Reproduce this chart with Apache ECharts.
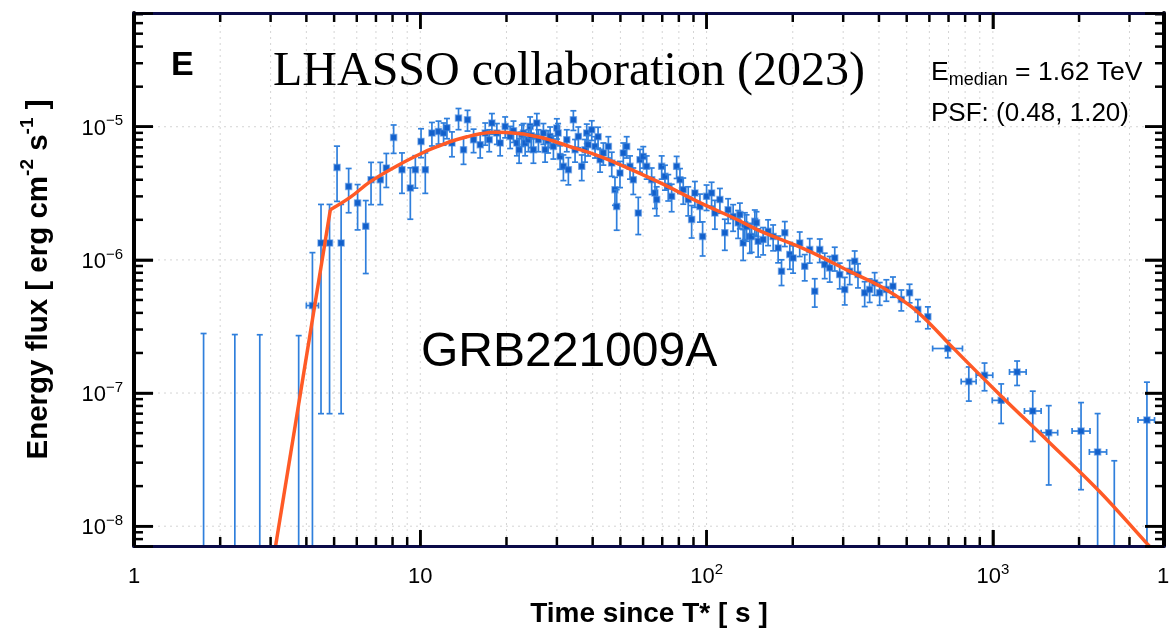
<!DOCTYPE html>
<html>
<head>
<meta charset="utf-8">
<script src="https://cdn.jsdelivr.net/npm/echarts@6/dist/echarts.min.js"></script>
<style>
  html, body { margin: 0; padding: 0; background: #fff; }
  #chart { width: 1172px; height: 633px; }
</style>
</head>
<body>
<div id="chart"></div>
<script>
// GRB 221009A light curve (energy flux vs. time since T*)
// Flux values are in units of 1e-6 erg cm^-2 s^-1.
const FLUX_UNIT = 1e-6;

// Measured points (narrow time bins)
const tObs = [
  4.50, 4.82, 5.12, 5.29, 5.62, 6.04, 6.45, 6.73, 7.25, 7.61,
  8.07, 8.63, 9.23, 9.61, 10.06, 10.41, 10.98, 11.58, 12.06, 12.39,
  12.90, 13.60, 14.16, 14.62, 15.35, 16.19, 16.86, 17.41, 17.79, 18.51,
  19.01, 19.79, 20.60, 21.16, 21.75, 22.14, 22.63, 22.93, 23.24, 23.87,
  24.19, 24.39, 24.84, 25.53, 25.86, 26.92, 27.29, 27.95, 28.41, 29.17,
  29.99, 30.29, 30.79, 31.61, 32.49, 32.90, 34.25, 34.72, 35.65, 36.64,
  37.63, 38.15, 38.55, 39.71, 40.78, 41.78, 42.46, 43.60, 45.39, 46.64,
  47.86, 48.53, 49.83, 51.18, 52.59, 54.02, 55.46, 57.73, 58.52, 60.10,
  61.77, 64.29, 66.03, 66.93, 69.68, 71.55, 73.47, 75.51, 78.60, 80.72,
  82.88, 86.27, 88.67, 91.03, 94.78, 96.85, 100.0, 104.1, 106.9, 111.3,
  115.8, 118.9, 123.8, 128.9, 130.7, 134.2, 136.0, 137.9, 141.6, 143.6,
  147.4, 149.4, 151.4, 157.6, 164.0, 170.8, 177.8, 182.7, 187.6, 195.3,
  200.5, 211.5, 220.2, 229.2, 238.7, 248.5, 258.6, 269.2, 280.3, 291.7,
  303.8, 316.1, 329.1, 337.9, 356.6, 371.2, 386.4, 402.3, 424.5, 447.7,
  478.8, 511.7, 547.0, 592.9
];
const fObs = [
  1.34, 1.34, 4.95, 1.34, 3.56, 2.68, 1.79, 4.00, 4.00, 4.90,
  8.31, 4.76, 3.47, 4.76, 7.76, 4.76, 8.97, 9.22, 8.97, 9.83,
  7.55, 11.61, 6.72, 11.28, 7.99, 7.33, 8.97, 7.99, 10.66, 8.97,
  7.55, 10.05, 8.46, 9.33, 7.55, 6.72, 8.71, 8.97, 7.55, 7.99,
  10.05, 8.56, 6.72, 10.66, 7.99, 8.97, 6.72, 7.85, 8.46, 7.12,
  9.78, 8.97, 5.99, 5.04, 7.99, 4.76, 11.28, 6.72, 8.46, 5.04,
  6.72, 8.97, 7.33, 9.49, 7.12, 8.41, 5.66, 6.35, 7.12, 5.34,
  3.37, 2.52, 4.49, 6.35, 7.12, 5.04, 4.00, 2.25, 5.66, 5.99,
  5.04, 4.00, 3.18, 2.84, 5.04, 4.24, 3.57, 3.00, 5.04, 4.00,
  3.37, 2.84, 2.01, 3.18, 2.52, 1.50, 3.00, 3.18, 2.25, 2.84,
  1.60, 2.38, 2.12, 1.90, 2.19, 1.34, 1.84, 1.78, 1.50, 1.50,
  1.95, 1.90, 1.38, 1.42, 1.64, 1.50, 1.23, 0.822, 1.60, 1.10,
  1.035, 1.34, 0.896, 1.195, 0.582, 1.195, 0.923, 0.871, 1.035, 0.776,
  0.599, 0.822, 0.977, 0.776, 0.566, 0.599, 0.672, 0.566, 0.599, 0.634,
  0.504, 0.566, 0.424, 0.374
];
const fObsErr = [
  1.27, 1.27, 2.20, 1.27, 1.30, 1.00, 1.00, 1.40, 1.40, 1.40,
  2.00, 1.60, 1.45, 1.30, 1.90, 1.60, 1.80, 1.80, 1.70, 1.70,
  1.60, 2.10, 1.50, 2.00, 1.60, 1.50, 1.70, 1.50, 1.90, 1.60,
  1.50, 1.80, 1.60, 1.70, 1.50, 1.40, 1.60, 1.60, 1.50, 1.50,
  1.80, 1.60, 1.40, 1.90, 1.50, 1.60, 1.30, 1.50, 1.50, 1.40,
  1.70, 1.60, 1.20, 1.10, 1.50, 1.10, 1.90, 1.30, 1.50, 1.10,
  1.30, 1.50, 1.30, 1.60, 1.30, 1.50, 1.10, 1.20, 1.30, 1.10,
  0.80, 0.85, 1.00, 1.20, 1.30, 1.00, 0.90, 0.70, 1.10, 1.10,
  1.00, 0.90, 0.75, 0.70, 1.00, 0.90, 0.80, 0.70, 0.95, 0.85,
  0.75, 0.70, 0.55, 0.70, 0.60, 0.43, 0.65, 0.65, 0.55, 0.60,
  0.42, 0.50, 0.48, 0.45, 0.48, 0.35, 0.42, 0.40, 0.38, 0.36,
  0.42, 0.40, 0.33, 0.33, 0.36, 0.33, 0.28, 0.18, 0.34, 0.25,
  0.24, 0.28, 0.20, 0.25, 0.14, 0.24, 0.20, 0.19, 0.21, 0.17,
  0.14, 0.17, 0.19, 0.16, 0.12, 0.12, 0.13, 0.11, 0.11, 0.11,
  0.09, 0.09, 0.08, 0.07
];

// Measured points with wide time bins
const tBin   = [4.20, 696, 824, 935, 1069, 1215, 1378, 1567, 2032, 2322, 3452];
const tBinLo = [4.00, 616, 775, 874, 995, 1143, 1289, 1474, 1891, 2173, 3213];
const tBinHi = [4.41, 783, 874, 999, 1127, 1307, 1474, 1684, 2184, 2496, 3670];
const fBin   = [0.454, 0.216, 0.122, 0.136, 0.0881, 0.144, 0.0733, 0.0504, 0.0518, 0.0361, 0.0627];
const fBinErr = [0.68, 0.032, 0.035, 0.032, 0.029, 0.030, 0.030, 0.030, 0.033, 0.034, 0.058];

// Bins with no net flux: only the upper error is shown
const tNull   = [1.75, 2.25, 2.75, 3.76, 2655];
const fNullErr = [0.280, 0.275, 0.274, 0.270, 0.031];

// Fitted light-curve model (steep rise up to the second point, then a smooth hump and decay)
const tModel = [3.05, 4.85, 5.70, 6.69, 8.31, 10.2, 11.44, 13.0, 14.55, 16.2, 18.3, 20.1, 26.2, 33.4, 40.8,
  49.8, 68.7, 94.8, 127.6, 153.5, 223, 316, 412, 512, 600, 706, 1055, 1575, 2354, 3435, 3662];
const fModel = [0.0052, 2.38, 2.96, 3.87, 5.10, 6.38, 7.08, 7.85, 8.41, 8.86, 9.09, 9.05, 8.35, 7.08, 6.17,
  5.19, 3.80, 2.69, 2.01, 1.65, 1.19, 0.82, 0.62, 0.455, 0.335, 0.232, 0.0977, 0.0426, 0.0183, 0.0075, 0.0065];

// Axes
const X_MIN = 1, X_MAX = 3960;
const Y_MIN = 7.1e-9, Y_MAX = 7.15e-5;
const xDecades = [1, 10, 100, 1000];
const yDecades = [1e-9, 1e-8, 1e-7, 1e-6, 1e-5];
const MANTISSAS = [1, 2, 3, 4, 5, 6, 7, 8, 9];

const FONT = '"Liberation Sans", Arial, Helvetica, sans-serif';
const SERIF = '"Liberation Serif", "Times New Roman", serif';
const BAR_COLOR = '#2f7fdc';
const MARK_COLOR = '#1260cb';
const MODEL_COLOR = '#ff5a26';
const TICK_COLOR = '#000';
const TICK_WIDTH = 2.5;

function buildXTicks() {
  const out = [];
  xDecades.forEach(d => MANTISSAS.forEach(m => {
    const v = d * m;
    if (v >= X_MIN && v <= X_MAX) out.push([v, Y_MIN, m === 1 ? 1 : 0]);
  }));
  return out;
}
function buildYTicks() {
  const out = [];
  yDecades.forEach(d => MANTISSAS.forEach(m => {
    const v = d * m;
    if (v >= Y_MIN && v <= Y_MAX) out.push([X_MIN, v, m === 1 ? 1 : 0]);
  }));
  return out;
}

const obsData = tObs.map((t, i) => [t, fObs[i] * FLUX_UNIT, fObsErr[i] * FLUX_UNIT, 0, 0]);
const binData = tBin.map((t, i) => [t, fBin[i] * FLUX_UNIT, fBinErr[i] * FLUX_UNIT, tBinLo[i], tBinHi[i]]);
const nullData = tNull.map((t, i) => [t, fNullErr[i] * FLUX_UNIT]);
const modelData = tModel.map((t, i) => [t, fModel[i] * FLUX_UNIT]);

function isDecade(v) {
  const l = Math.log10(v);
  return Math.abs(l - Math.round(l)) < 1e-6;
}

function lineEl(x1, y1, x2, y2, stroke, width, dash) {
  const style = { stroke: stroke, lineWidth: width, fill: null };
  if (dash) style.lineDash = dash;
  return { type: 'line', shape: { x1: x1, y1: y1, x2: x2, y2: y2 }, style: style };
}
function barEl(x, y, w, h) {
  return { type: 'rect', shape: { x: x, y: y, width: w, height: h }, style: { fill: TICK_COLOR } };
}

// Point with vertical (and optional horizontal) error bar
function renderPoint(params, api) {
  const cs = params.coordSys;
  const yBottom = cs.y + cs.height;
  const t = api.value(0), f = api.value(1), e = api.value(2);
  const tlo = api.value(3), thi = api.value(4);
  const c = api.coord([t, f]);
  const x = c[0];
  const yHi = Math.max(api.coord([t, f + e])[1], cs.y);
  const lowClipped = !(f - e > Y_MIN);
  const yLo = lowClipped ? yBottom : api.coord([t, f - e])[1];
  const kids = [];
  kids.push(lineEl(x, yHi, x, yLo, BAR_COLOR, 1.7));
  kids.push(lineEl(x - 3, yHi, x + 3, yHi, BAR_COLOR, 1.7));
  if (!lowClipped) kids.push(lineEl(x - 3, yLo, x + 3, yLo, BAR_COLOR, 1.7));
  if (tlo > 0 && thi > 0) {
    const xl = api.coord([tlo, f])[0];
    const xr = Math.min(api.coord([thi, f])[0], cs.x + cs.width);
    kids.push(lineEl(xl, c[1], xr, c[1], BAR_COLOR, 1.7));
    kids.push(lineEl(xl, c[1] - 3, xl, c[1] + 3, BAR_COLOR, 1.7));
    kids.push(lineEl(xr, c[1] - 3, xr, c[1] + 3, BAR_COLOR, 1.7));
  }
  kids.push({ type: 'rect', shape: { x: x - 3, y: c[1] - 3, width: 6, height: 6 },
    style: { fill: MARK_COLOR, stroke: 'rgba(60,130,220,0.55)', lineWidth: 1.5 } });
  return { type: 'group', children: kids };
}

// Bin with only an upper error reaching down to the axis
function renderNull(params, api) {
  const cs = params.coordSys;
  const yBottom = cs.y + cs.height;
  const p = api.coord([api.value(0), api.value(1)]);
  return { type: 'group', children: [
    lineEl(p[0], p[1], p[0], yBottom, BAR_COLOR, 1.7),
    lineEl(p[0] - 3, p[1], p[0] + 3, p[1], BAR_COLOR, 1.7)
  ] };
}

// Dotted grid: vertical at every x tick, horizontal at y decades
function renderXGrid(params, api) {
  const cs = params.coordSys;
  const x = api.coord([api.value(0), Y_MIN])[0];
  if (x <= cs.x + 1 || x >= cs.x + cs.width - 1) return null;
  return lineEl(x, cs.y, x, cs.y + cs.height, '#d4d4d4', 1, [2, 4]);
}
function renderYGrid(params, api) {
  const cs = params.coordSys;
  if (api.value(2) !== 1) return null;
  const y = api.coord([X_MIN, api.value(1)])[1];
  return lineEl(cs.x, y, cs.x + cs.width, y, '#d4d4d4', 1, [2, 4]);
}

// Tick marks pointing inward on all four sides of the frame
function renderXTicks(params, api) {
  const cs = params.coordSys;
  const x = api.coord([api.value(0), Y_MIN])[0];
  const len = api.value(2) === 1 ? 16 : 9;
  const yTop = cs.y, yBottom = cs.y + cs.height;
  return { type: 'group', children: [
    barEl(x - TICK_WIDTH / 2, yBottom - len, TICK_WIDTH, len),
    barEl(x - TICK_WIDTH / 2, yTop, TICK_WIDTH, len)
  ] };
}
function renderYTicks(params, api) {
  const cs = params.coordSys;
  const y = api.coord([X_MIN, api.value(1)])[1];
  const len = api.value(2) === 1 ? 19 : 9;
  const xLeft = cs.x, xRight = cs.x + cs.width;
  return { type: 'group', children: [
    barEl(xLeft, y - TICK_WIDTH / 2, len, TICK_WIDTH),
    barEl(xRight - len, y - TICK_WIDTH / 2, len, TICK_WIDTH)
  ] };
}

const labelRich = {
  b: { fontSize: 22, fontFamily: FONT, color: '#000', lineHeight: 26, verticalAlign: 'bottom' },
  s: { fontSize: 15, fontFamily: FONT, color: '#000', lineHeight: 15, verticalAlign: 'top' }
};
const majorTick = { show: true, inside: true, length: 16, lineStyle: { color: TICK_COLOR, width: TICK_WIDTH } };

const chart = echarts.init(document.getElementById('chart'), null, { renderer: 'canvas' });
chart.setOption({
  animation: false,
  backgroundColor: '#fff',
  grid: { left: 134, top: 13, width: 1030, height: 534, containLabel: false },
  xAxis: [
    {
      type: 'log', logBase: 10, min: X_MIN, max: X_MAX, position: 'bottom', z: 6,
      axisLine: { show: true, lineStyle: { color: '#0b0b48', width: 3 } },
      axisTick: majorTick, splitLine: { show: false }, minorTick: { show: false },
      axisLabel: {
        margin: 16, hideOverlap: false, rich: labelRich,
        formatter: v => {
          if (!isDecade(v)) return '';
          const n = Math.round(Math.log10(v));
          if (n === 0) return '{b|1}';
          if (n === 1) return '{b|10}';
          return '{b|10}{s|' + n + '}';
        }
      },
      name: 'Time since T* [ s ]', nameLocation: 'middle', nameGap: 54,
      nameTextStyle: { fontSize: 28, fontWeight: 'bold', fontFamily: FONT, color: '#000' }
    },
    {
      type: 'log', logBase: 10, min: X_MIN, max: X_MAX, position: 'top', z: 6,
      axisLine: { show: true, lineStyle: { color: '#0b0b48', width: 3 } },
      axisTick: majorTick, axisLabel: { show: false }, splitLine: { show: false }
    }
  ],
  yAxis: [
    {
      type: 'log', logBase: 10, min: Y_MIN, max: Y_MAX, position: 'left', z: 6,
      axisLine: { show: true, lineStyle: { color: '#000', width: 4 } },
      axisTick: Object.assign({}, majorTick, { length: 19 }), splitLine: { show: false }, minorTick: { show: false },
      axisLabel: {
        margin: 11, hideOverlap: false, rich: labelRich,
        formatter: v => {
          if (!isDecade(v)) return '';
          const n = Math.round(Math.log10(v));
          return '{b|10}{s|\u2212' + (-n) + '}';
        }
      },
      name: '{b|Energy flux [ erg cm}{s|-2}{b| s}{s|-1}{b| ]}',
      nameLocation: 'middle', nameGap: 80,
      nameTextStyle: {
        rich: {
          b: { fontSize: 29.5, fontWeight: 'bold', fontFamily: FONT, color: '#000', lineHeight: 36, verticalAlign: 'bottom' },
          s: { fontSize: 19, fontWeight: 'bold', fontFamily: FONT, color: '#000', lineHeight: 19, verticalAlign: 'top' }
        }
      }
    },
    {
      type: 'log', logBase: 10, min: Y_MIN, max: Y_MAX, position: 'right', z: 6,
      axisLine: { show: true, lineStyle: { color: '#000', width: 4 } },
      axisTick: Object.assign({}, majorTick, { length: 19 }), axisLabel: { show: false }, splitLine: { show: false }
    }
  ],
  series: [
    { type: 'custom', name: 'grid-x', data: buildXTicks(), renderItem: renderXGrid, silent: true, z: 1 },
    { type: 'custom', name: 'grid-y', data: buildYTicks(), renderItem: renderYGrid, silent: true, z: 1 },
    { type: 'custom', name: 'null bins', data: nullData, renderItem: renderNull, silent: true, z: 2 },
    { type: 'custom', name: 'flux', data: obsData, renderItem: renderPoint, silent: true, z: 2 },
    { type: 'custom', name: 'wide bins', data: binData, renderItem: renderPoint, silent: true, z: 2 },
    { type: 'custom', name: 'ticks-x', data: buildXTicks(), renderItem: renderXTicks, silent: true, z: 3 },
    { type: 'custom', name: 'ticks-y', data: buildYTicks(), renderItem: renderYTicks, silent: true, z: 3 },
    {
      type: 'line', name: 'model rise', data: modelData.slice(0, 2), showSymbol: false, smooth: false, clip: true,
      lineStyle: { color: MODEL_COLOR, width: 3.5 }, z: 4, silent: true
    },
    {
      type: 'line', name: 'model decay', data: modelData.slice(1), showSymbol: false, smooth: 0.4, clip: true,
      lineStyle: { color: MODEL_COLOR, width: 3.5 }, z: 4, silent: true
    }
  ],
  graphic: { elements: [
    { type: 'text', z: 10, style: { x: 171, y: 66, text: 'E', fill: '#000',
      font: 'bold 34px ' + FONT, textAlign: 'left', textVerticalAlign: 'middle' } },
    { type: 'text', z: 10, style: { x: 273, y: 72, text: 'LHASSO collaboration (2023)', fill: '#000',
      font: '48px ' + SERIF, textAlign: 'left', textVerticalAlign: 'middle' } },
    { type: 'text', z: 10, style: { x: 931, y: 74, text: '{b|E}{sub|median}{b| = 1.62 TeV}', fill: '#000',
      textAlign: 'left', textVerticalAlign: 'middle',
      rich: {
        b: { fontSize: 26.5, fontFamily: FONT, fill: '#000', lineHeight: 30, verticalAlign: 'top' },
        sub: { fontSize: 18, fontFamily: FONT, fill: '#000', lineHeight: 18, padding: [15, 0, 0, 0], verticalAlign: 'bottom' }
      } } },
    { type: 'text', z: 10, style: { x: 931, y: 114, text: 'PSF: (0.48, 1.20)', fill: '#000',
      font: '26px ' + FONT, textAlign: 'left', textVerticalAlign: 'middle' } },
    { type: 'text', z: 10, style: { x: 421, y: 353, text: 'GRB221009A', fill: '#000',
      font: '48px ' + FONT, textAlign: 'left', textVerticalAlign: 'middle' } },
    { type: 'text', z: 10, style: { x: 1163, y: 577, text: '1', fill: '#000',
      font: '22px ' + FONT, textAlign: 'center', textVerticalAlign: 'middle' } }
  ] }
});
</script>
</body>
</html>
